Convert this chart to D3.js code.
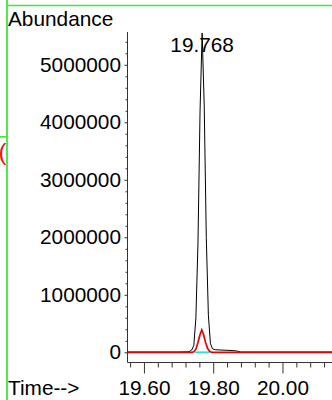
<!DOCTYPE html>
<html>
<head>
<meta charset="utf-8">
<script src="https://cdn.jsdelivr.net/npm/d3@7"></script>
<style>
html,body{margin:0;padding:0;background:#fff;}
svg{display:block;font-family:"Liberation Sans",Arial,sans-serif;}
</style>
</head>
<body>
<script>
// ---- data ----
const blackTimes = [19.553, 19.700, 19.730, 19.738, 19.744, 19.750, 19.756, 19.762, 19.768, 19.774, 19.780, 19.786, 19.792, 19.798, 19.806, 19.820, 19.840, 19.866, 19.880, 20.143];
const blackValues = [5000, 5000, 10000, 40000, 120000, 600000, 1900000, 4200000, 5550000, 4300000, 2000000, 650000, 150000, 60000, 45000, 40000, 35000, 25000, 5000, 5000];
const redTimes = [19.553, 19.738, 19.744, 19.750, 19.756, 19.762, 19.767, 19.772, 19.778, 19.784, 19.790, 19.796, 20.143];
const redValues = [0, 0, 10000, 55000, 170000, 310000, 390000, 310000, 170000, 65000, 15000, 0, 0];
const baselineTimes = [19.747, 19.788];
const baselineValues = [0, 0];
const peakTime = 19.768;
const peakLabel = "19.768";
const yMajorTicks = [0, 1000000, 2000000, 3000000, 4000000, 5000000];
const yMinorTicks = [200000,400000,600000,800000,1200000,1400000,1600000,1800000,2200000,2400000,2600000,2800000,3200000,3400000,3600000,3800000,4200000,4400000,4600000,4800000,5200000,5400000];
const xMajorTicks = [19.60, 19.80, 20.00];
const xMinorTicks = [19.56, 19.64, 19.68, 19.72, 19.76, 19.84, 19.88, 19.92, 19.96, 20.04, 20.08, 20.12];
const yTitle = "Abundance";
const xTitle = "Time-->";

// ---- layout ----
const W = 332, H = 400;
const plotLeft = 127.5, plotRight = 332, plotTop = 32, zeroY = 352.3, xAxisY = 362.5;
const fontSize = 20.8;

const svg = d3.select("body").append("svg").attr("width", W).attr("height", H);
svg.append("rect").attr("width", W).attr("height", H).attr("fill", "#fff");

const x = d3.scaleLinear().domain([19.5525, 20.143]).range([plotLeft, plotRight]);
const y = d3.scaleLinear().domain([0, 5570000]).range([zeroY, plotTop]);

// frame decorations (green)
const green = "#3de83d";
svg.append("line").attr("x1", 7).attr("x2", W).attr("y1", 5.5).attr("y2", 5.5).attr("stroke", green).attr("stroke-width", 1.6);
svg.append("line").attr("x1", 7).attr("x2", 7).attr("y1", 0).attr("y2", H).attr("stroke", green).attr("stroke-width", 1.8);
svg.append("line").attr("x1", 0).attr("x2", 7).attr("y1", 136.8).attr("y2", 136.8).attr("stroke", green).attr("stroke-width", 1.6);
svg.append("text").attr("x", -1.5).attr("y", 160).attr("font-size", 24).attr("fill", "#ee1111").text("(");

// axes
const axisColor = "#333";
const gy = svg.append("g").attr("transform", `translate(${plotLeft},0)`)
  .call(d3.axisLeft(y).tickValues(yMajorTicks).tickSize(3).tickPadding(3.5).tickSizeOuter(0).tickFormat(d3.format("d")));
const gyMinor = svg.append("g").attr("transform", `translate(${plotLeft},0)`)
  .call(d3.axisLeft(y).tickValues(yMinorTicks).tickSize(2).tickSizeOuter(0).tickFormat(""));
const gx = svg.append("g").attr("transform", `translate(0,${xAxisY})`)
  .call(d3.axisBottom(x).tickValues(xMajorTicks).tickSize(11).tickPadding(7).tickSizeOuter(0).tickFormat(d3.format(".2f")));
const gxMinor = svg.append("g").attr("transform", `translate(0,${xAxisY})`)
  .call(d3.axisBottom(x).tickValues(xMinorTicks).tickSize(5).tickSizeOuter(0).tickFormat(""));
[gy, gyMinor, gx, gxMinor].forEach(g => {
  g.select(".domain").remove();
  g.selectAll("line").attr("stroke", axisColor);
  g.selectAll("text").attr("font-size", fontSize).attr("fill", "#000").attr("font-family", "'Liberation Sans',Arial,sans-serif");
});
svg.append("line").attr("x1", plotLeft).attr("x2", plotLeft).attr("y1", plotTop).attr("y2", xAxisY).attr("stroke", axisColor);
svg.append("line").attr("x1", plotLeft).attr("x2", plotRight).attr("y1", xAxisY).attr("y2", xAxisY).attr("stroke", axisColor);

// titles
svg.append("text").attr("x", 8).attr("y", 26).attr("font-size", fontSize).attr("fill", "#000").text(yTitle);
svg.append("text").attr("x", 8).attr("y", 395).attr("font-size", fontSize).attr("fill", "#000").text(xTitle);

// traces
const line = d3.line().x(d => x(d[0])).y(d => y(d[1]));
svg.append("path").attr("d", line(d3.zip(blackTimes, blackValues)))
  .attr("fill", "none").attr("stroke", "#000").attr("stroke-width", 1);
svg.append("path").attr("d", line(d3.zip(baselineTimes, baselineValues)))
  .attr("fill", "none").attr("stroke", "#22e5e5").attr("stroke-width", 1.8);
svg.append("path").attr("d", line(d3.zip(redTimes, redValues)))
  .attr("fill", "none").attr("stroke", "#ee0000").attr("stroke-width", 1.7);

// peak label
svg.append("text").attr("x", x(peakTime)).attr("y", 52).attr("text-anchor", "middle")
  .attr("font-size", fontSize).attr("fill", "#000").text(peakLabel);
</script>
</body>
</html>
